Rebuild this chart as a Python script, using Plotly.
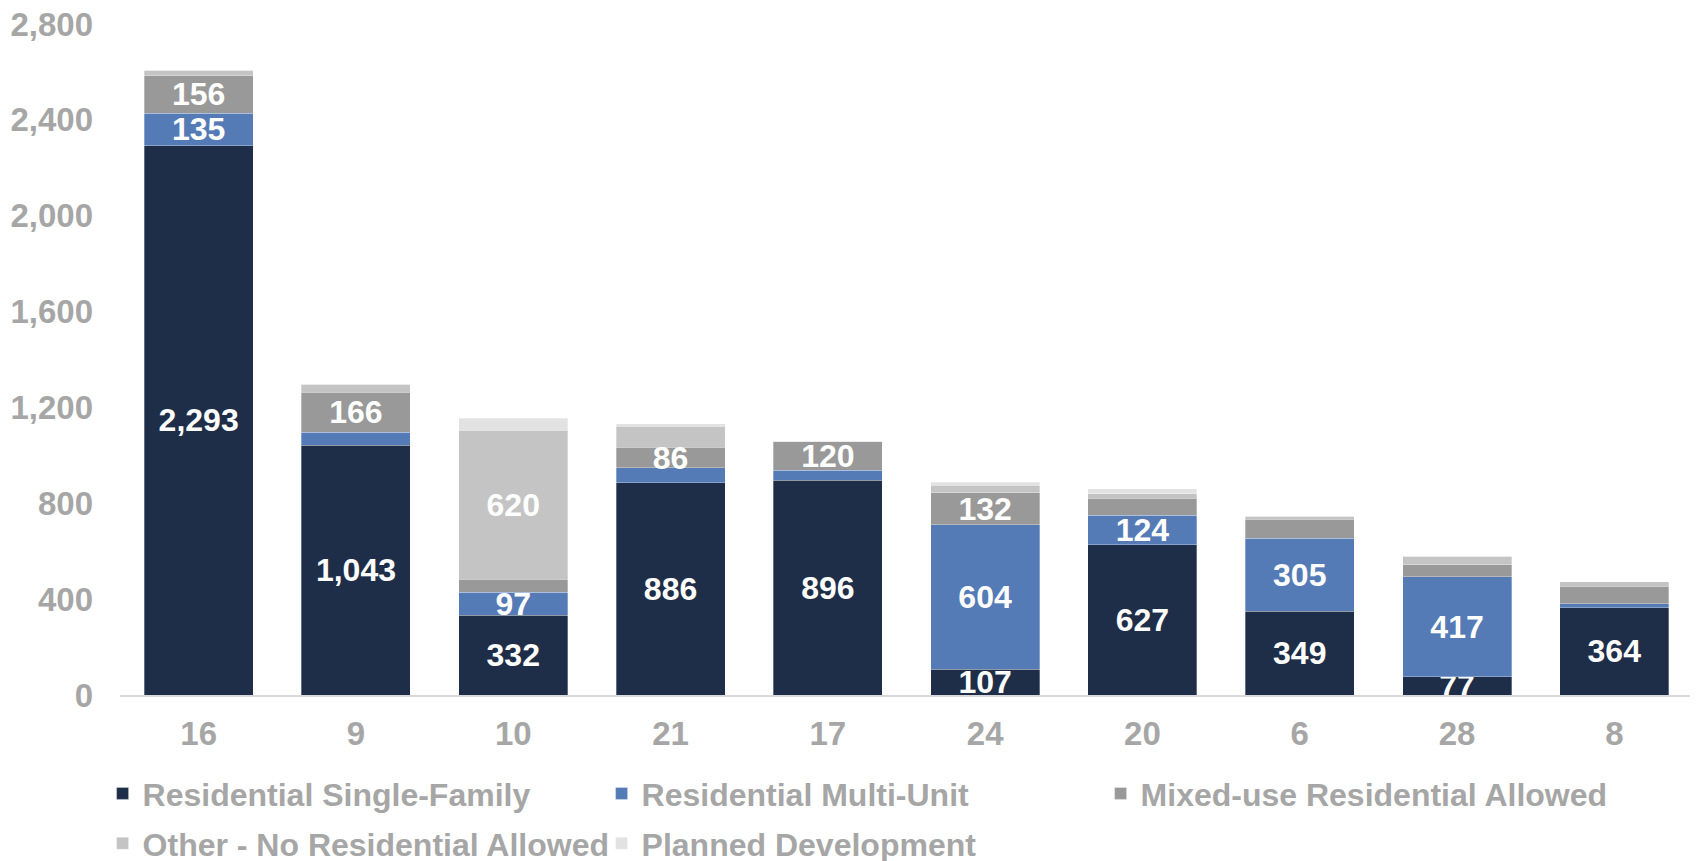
import plotly.graph_objects as go

categories = ["16", "9", "10", "21", "17", "24", "20", "6", "28", "8"]

single_family = [2293, 1043, 332, 886, 896, 107, 627, 349, 77, 364]
multi_unit = [135, 54, 97, 62, 42, 604, 124, 305, 417, 17]
mixed_use = [156, 166, 55, 86, 120, 132, 71, 80, 49, 72]
other_no_res = [23, 33, 620, 87, 0, 33, 17, 12, 36, 19]
planned_dev = [0, 0, 51, 11, 0, 12, 21, 0, 0, 0]

# which segments carry a value label
sf_labeled = [True] * 10
mu_labeled = [True, False, True, False, False, True, True, True, True, False]
mx_labeled = [True, True, False, True, True, True, False, False, False, False]
ot_labeled = [False, False, True, False, False, False, False, False, False, False]
pd_labeled = [False] * 10

y_ticks = [0, 400, 800, 1200, 1600, 2000, 2400, 2800]

series = [
    ("Residential Single-Family", single_family, sf_labeled, "#1f2e48", "legend"),
    ("Residential Multi-Unit", multi_unit, mu_labeled, "#547bb6", "legend"),
    ("Mixed-use Residential Allowed", mixed_use, mx_labeled, "#999999", "legend3"),
    ("Other - No Residential Allowed", other_no_res, ot_labeled, "#c4c4c4", "legend2"),
    ("Planned Development", planned_dev, pd_labeled, "#e2e2e2", "legend2"),
]

FONT = "Arial, 'Liberation Sans', sans-serif"
GRAY = "#a6a6a6"

fig = go.Figure()
for name, vals, lab, color, leg in series:
    texts = [f"<b>{v:,}</b>" if show else "" for v, show in zip(vals, lab)]
    fig.add_trace(go.Bar(
        name=name,
        x=categories,
        y=vals,
        text=texts,
        texttemplate="%{text}",
        textposition="inside",
        insidetextanchor="middle",
        textangle=0,
        constraintext="none",
        insidetextfont=dict(family=FONT, size=32, color="white"),
        marker=dict(color=color, line=dict(width=0.6, color="rgba(255,255,255,0.5)")),
        hoverinfo="x+y+name",
        legend=leg,
    ))

legend_common = dict(
    orientation="h",
    xref="container",
    yref="container",
    xanchor="left",
    yanchor="top",
    entrywidth=454,
    entrywidthmode="pixels",
    font=dict(family=FONT, size=32, color=GRAY, weight="bold"),
    traceorder="normal",
    bgcolor="rgba(0,0,0,0)",
)

LX = 0.0557
ROW1_Y = 0.1195
ROW2_Y = 0.0616

fig.update_layout(
    barmode="stack",
    bargap=0.307,
    width=1698,
    height=861,
    margin=dict(l=112, r=13, t=16, b=174),
    plot_bgcolor="white",
    paper_bgcolor="white",
    font=dict(family=FONT, size=32, color=GRAY),
    showlegend=True,
    legend=dict(legend_common, x=LX, y=ROW1_Y),
    legend3=dict(legend_common, x=LX + 998 / 1698, y=ROW1_Y, entrywidth=None),
    legend2=dict(legend_common, x=LX, y=ROW2_Y),
    xaxis=dict(
        automargin=False,
        showline=True,
        linecolor="#d9d9d9",
        linewidth=2,
        showgrid=False,
        ticks="",
        ticklabelstandoff=8,
        tickfont=dict(family=FONT, size=33, color=GRAY, weight="bold"),
    ),
    yaxis=dict(
        automargin=False,
        range=[0, 2800],
        tickvals=y_ticks,
        ticktext=[f"{v:,}" for v in y_ticks],
        ticklabeloverflow="allow",
        showgrid=False,
        showline=False,
        zeroline=False,
        ticks="",
        ticklabelstandoff=26,
        tickfont=dict(family=FONT, size=33, color=GRAY, weight="bold"),
    ),
)

fig.write_html("out.html")
